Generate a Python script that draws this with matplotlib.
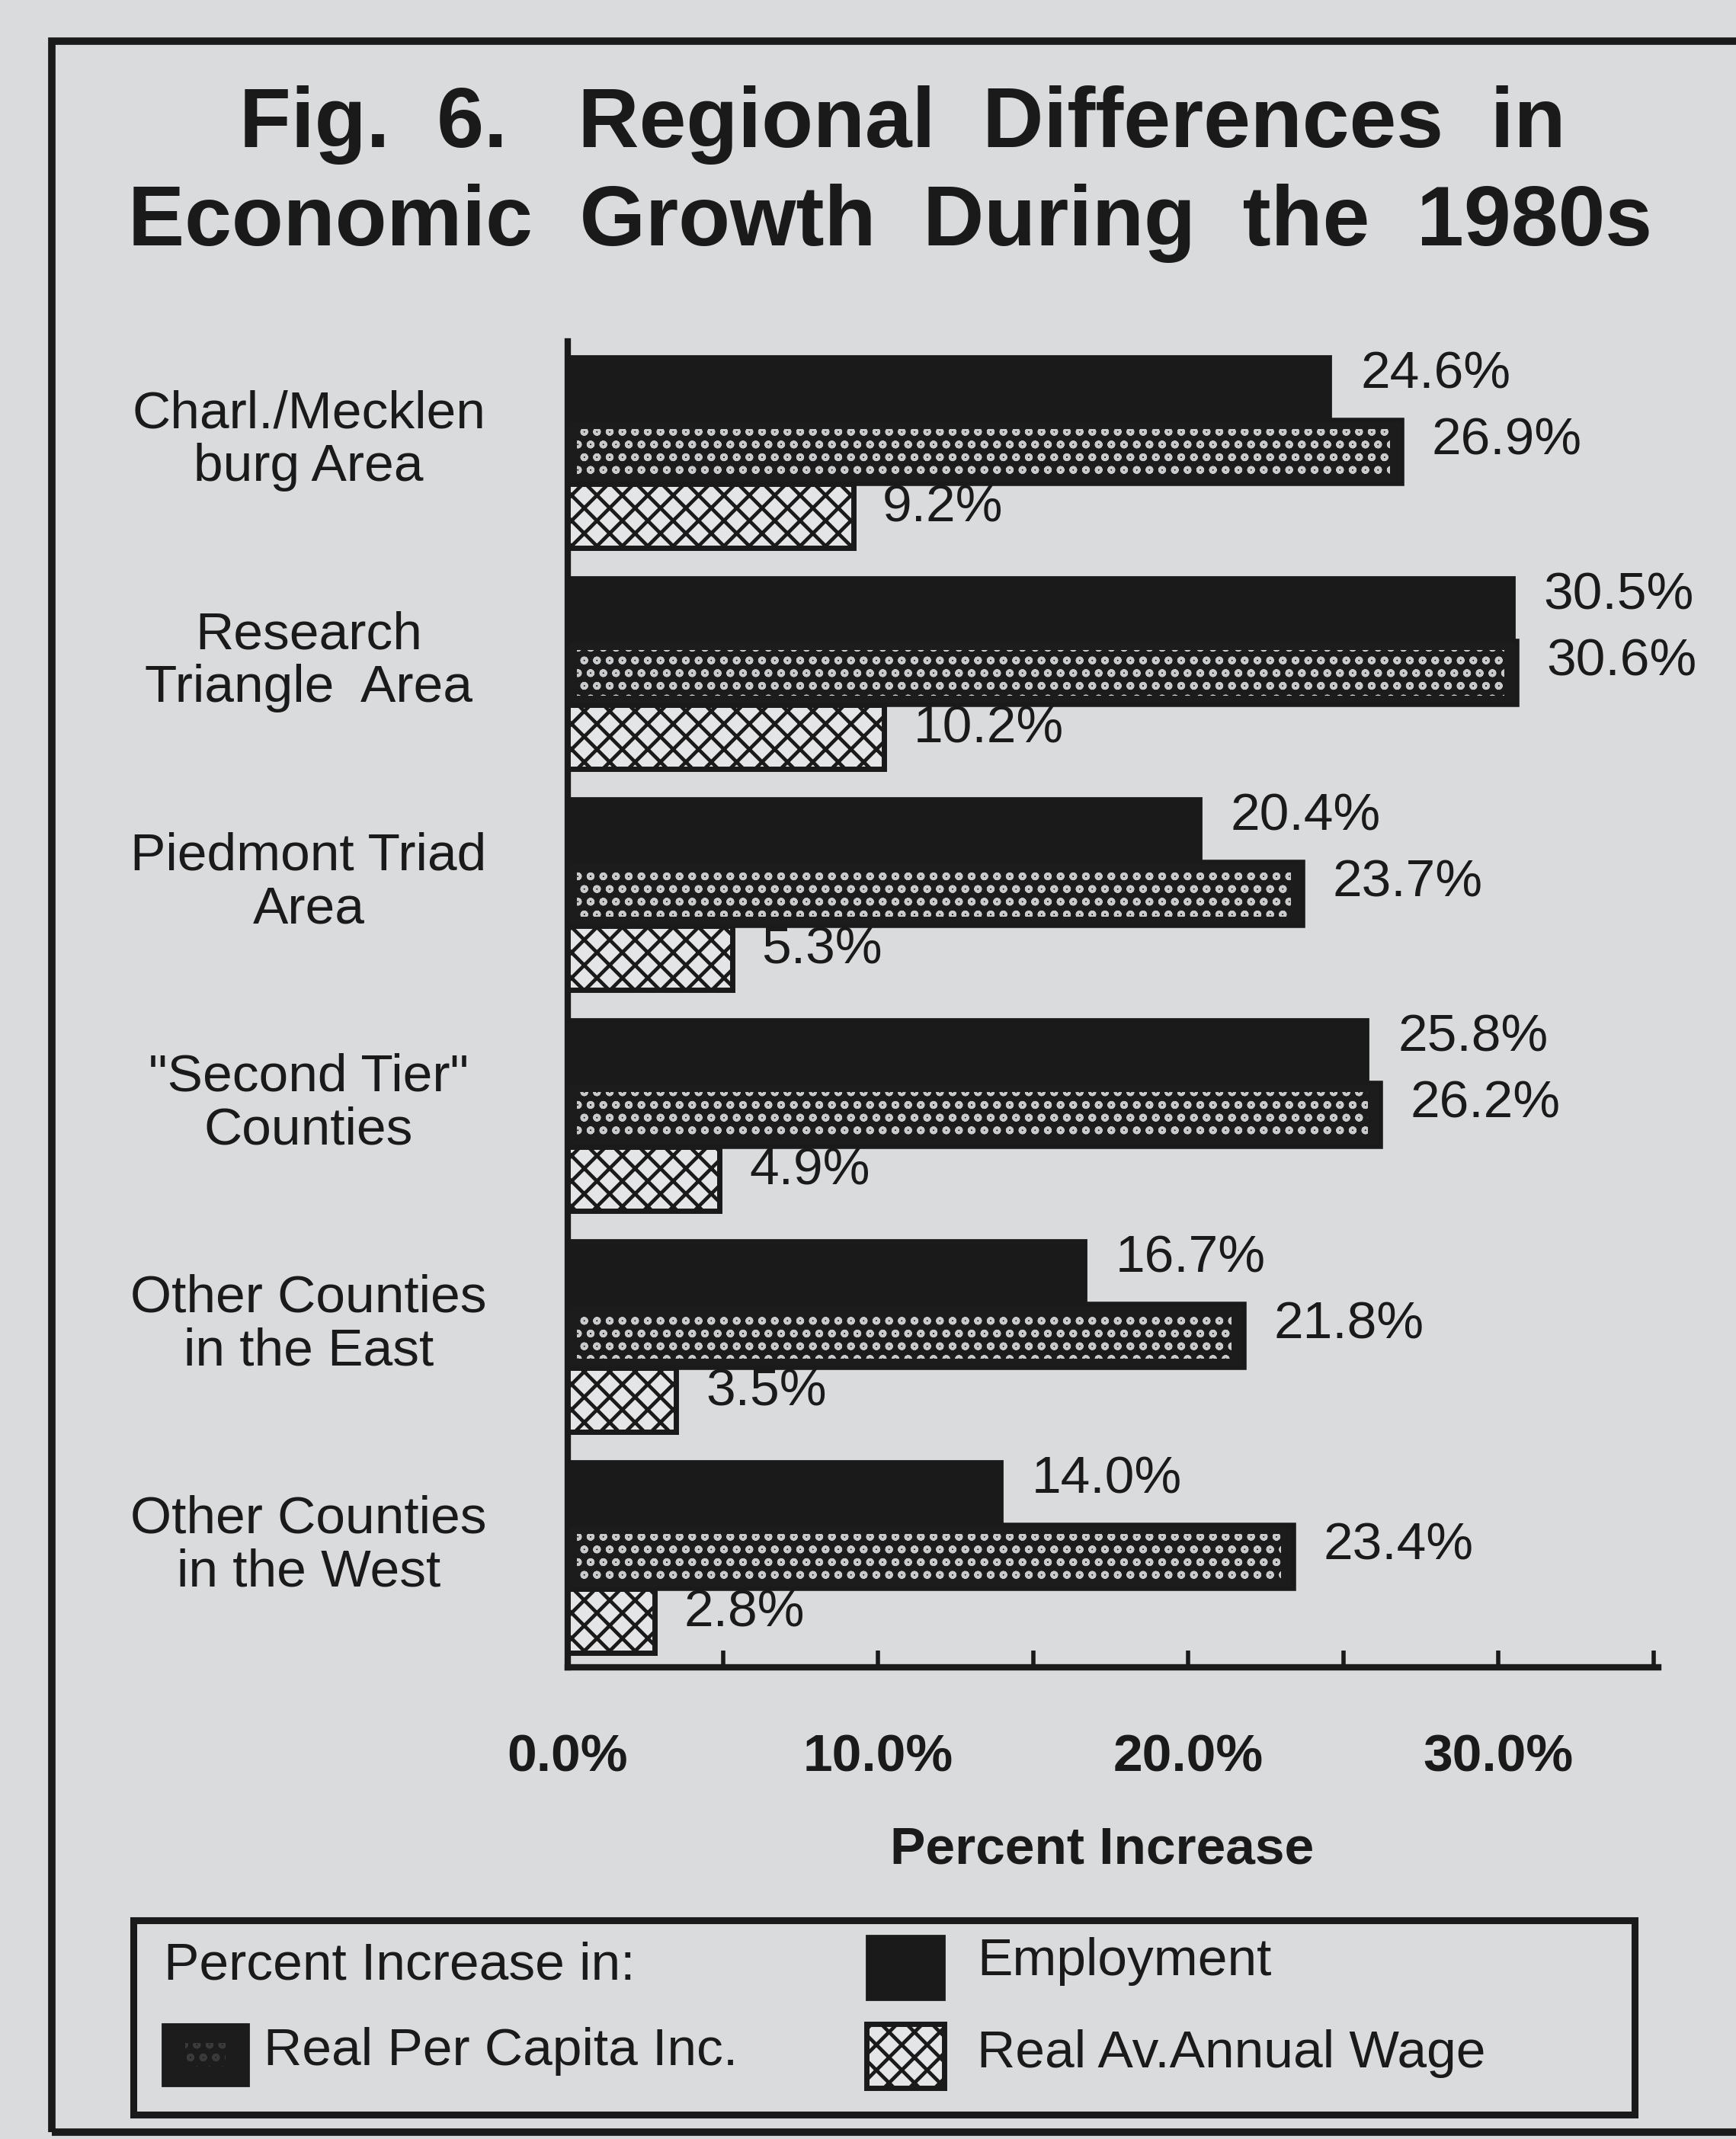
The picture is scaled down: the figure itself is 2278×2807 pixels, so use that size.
import matplotlib
matplotlib.use("Agg")
import matplotlib.pyplot as plt
import matplotlib.transforms as mtransforms
from matplotlib.patches import Rectangle
import numpy as np

# ---------------- data ----------------
categories = [
    "Charl./Mecklen\nburg Area",
    "Research\nTriangle  Area",
    "Piedmont Triad\nArea",
    "\"Second Tier\"\nCounties",
    "Other Counties\nin the East",
    "Other Counties\nin the West",
]
employment = [24.6, 30.5, 20.4, 25.8, 16.7, 14.0]
per_capita_income = [26.9, 30.6, 23.7, 26.2, 21.8, 23.4]
annual_wage = [9.2, 10.2, 5.3, 4.9, 3.5, 2.8]

xticks_major = [0, 10, 20, 30]
xtick_labels = ["0.0%", "10.0%", "20.0%", "30.0%"]
xticks_minor = [5, 15, 25, 35]

series_names = ["Employment", "Real Per Capita Inc.", "Real Av.Annual Wage"]
legend_header = "Percent Increase in:"
title_line1 = "Fig.  6.   Regional  Differences  in"
title_line2 = "Economic  Growth  During  the  1980s"
xlabel = "Percent Increase"

# ---------------- style ----------------
plt.rcParams['font.family'] = ['Liberation Sans', 'DejaVu Sans']
plt.rcParams['hatch.linewidth'] = 3.0

BG = '#dadbdd'
INK = '#1a1a1a'
W, H = 2278, 2807


def fx(px):
    return px / W


def fy(py):
    return 1 - py / H


def hatch_lw(artists, lw):
    for a in artists:
        if hasattr(a, 'set_hatch_linewidth'):
            a.set_hatch_linewidth(lw)


fig = plt.figure(figsize=(W / 100, H / 100), dpi=100, facecolor=BG)

# outer frame
fig.add_artist(Rectangle((fx(68), fy(2798)), 1.2, fy(54) - fy(2798),
                         transform=fig.transFigure, fill=False,
                         edgecolor=INK, linewidth=7, clip_on=False))

# title
fig.text(fx(1184), fy(193), title_line1, ha='center', va='baseline',
         fontsize=80, fontweight='bold', color=INK)
fig.text(fx(1168), fy(322), title_line2, ha='center', va='baseline',
         fontsize=80, fontweight='bold', color=INK)

# axes
ax = fig.add_axes([fx(745), fy(2188), fx(2176) - fx(745), fy(448) - fy(2188)])
ax.set_facecolor('none')
ax.set_xlim(0, 35.15)
ax.set_ylim(5.5, -0.5)

for s in ['top', 'right']:
    ax.spines[s].set_visible(False)
for s in ['left', 'bottom']:
    ax.spines[s].set_linewidth(6)
    ax.spines[s].set_color(INK)
    ax.spines[s].set_capstyle('projecting')

ax.set_xticks(xticks_major, xtick_labels, fontsize=50, fontweight='bold', color=INK)
ax.set_xticks(xticks_minor, minor=True)
ax.tick_params(axis='x', which='both', direction='in', length=16, width=4,
               color=INK, pad=62)
ax.tick_params(axis='y', left=False, labelleft=False)
ax.set_xlabel(xlabel, fontsize=50, fontweight='bold', color=INK, va='center')
ax.xaxis.set_label_coords(0.49, -0.1374)

# bars
n = len(categories)
y = np.arange(n)
h = 0.29

emp = np.array(employment)
pci = np.array(per_capita_income)
wage = np.array(annual_wage)

ax.barh(y - h, emp, height=h, color=INK, edgecolor=INK, linewidth=2, zorder=3)

ax.barh(y, pci, height=h, color='#1c1c1c', edgecolor='none', linewidth=0, zorder=3)
dots = ax.barh(y, pci - 0.7, left=0.3, height=h * 0.72, color='none',
               edgecolor='#c9cacc', hatch='o', linewidth=0, zorder=3.1)
hatch_lw(dots, 2.6)
ax.barh(y, pci, height=h, color='none', edgecolor=INK, linewidth=4, zorder=3.2)

wb = ax.barh(y + h, wage, height=h, color='#e4e5e6', edgecolor=INK, hatch='x',
             linewidth=5, zorder=3)
hatch_lw(wb, 3.4)

# value labels
dx = 0.95
for i in range(n):
    ax.text(emp[i] + dx, y[i] - h - 0.06, f"{emp[i]:.1f}%", fontsize=50,
            ha='left', va='center', color=INK, zorder=5)
    ax.text(pci[i] + dx, y[i] - 0.05, f"{pci[i]:.1f}%", fontsize=50,
            ha='left', va='center', color=INK, zorder=5)
    ax.text(wage[i] + dx, y[i] + h - 0.035, f"{wage[i]:.1f}%", fontsize=50,
            ha='left', va='center', color=INK, zorder=1)

# category labels
trans = mtransforms.blended_transform_factory(fig.transFigure, ax.transData)
for i, lab in enumerate(categories):
    ax.text(fx(405), y[i] - 0.05, lab, transform=trans, fontsize=50,
            ha='center', va='center', multialignment='center',
            linespacing=1.1, color=INK, clip_on=False)

# legend (drawn manually)
fig.add_artist(Rectangle((fx(175), fy(2775)), fx(2145) - fx(175), fy(2520) - fy(2775),
                         transform=fig.transFigure, fill=False, edgecolor=INK,
                         linewidth=6.5))
fig.text(fx(215), fy(2579), legend_header, fontsize=50, ha='left', va='center', color=INK)


def swatch(x0, y0, x1, y1, kind):
    xy = (fx(x0), fy(y1))
    w = fx(x1) - fx(x0)
    hh = fy(y0) - fy(y1)
    if kind == 0:
        fig.add_artist(Rectangle(xy, w, hh, transform=fig.transFigure,
                                 facecolor=INK, edgecolor=INK, linewidth=2))
    elif kind == 1:
        fig.add_artist(Rectangle(xy, w, hh, transform=fig.transFigure,
                                 facecolor='#1c1c1c', edgecolor=INK, linewidth=2))
        p = Rectangle((fx(x0 + 30), fy(y1 - 25)), fx(x1 - 30) - fx(x0 + 30),
                      fy(y0 + 25) - fy(y1 - 25), transform=fig.transFigure,
                      facecolor='none', edgecolor='#3a3a3a', hatch='o',
                      linewidth=0)
        hatch_lw([p], 2.6)
        fig.add_artist(p)
    else:
        p = Rectangle(xy, w, hh, transform=fig.transFigure,
                      facecolor='#e4e5e6', edgecolor=INK, hatch='x',
                      linewidth=5)
        hatch_lw([p], 3.4)
        fig.add_artist(p)


swatch(1137, 2540, 1239, 2624, 0)
fig.text(fx(1282), fy(2574), series_names[0], fontsize=50, ha='left', va='center', color=INK)
swatch(213, 2656, 326, 2737, 1)
fig.text(fx(346), fy(2692), series_names[1], fontsize=50, ha='left', va='center', color=INK)
swatch(1137, 2656, 1239, 2740, 2)
fig.text(fx(1282), fy(2695), series_names[2], fontsize=50, ha='left', va='center', color=INK)

fig.savefig("out.png", dpi=100, facecolor=BG)
